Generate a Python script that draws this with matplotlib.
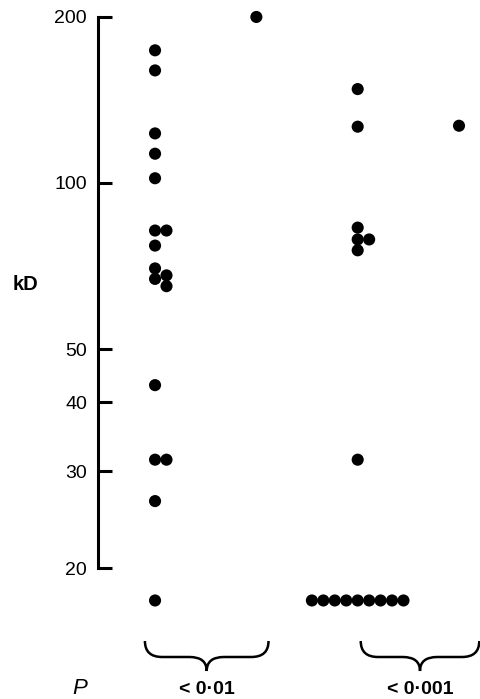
import numpy as np
import matplotlib
matplotlib.use('Agg')
import matplotlib.pyplot as plt
from matplotlib.path import Path
from matplotlib.patches import PathPatch
from matplotlib.transforms import blended_transform_factory

plt.rcParams['font.family'] = ['Liberation Sans', 'DejaVu Sans']

# molecular weights (kD), one list per column
group_a = [174, 160, 123, 113, 102, 82, 82, 77, 70, 68, 67, 65, 43, 31.5, 31.5, 26.5, 17.5]
group_b = [200]
group_c = [148, 126.5, 83, 79, 79, 75.5, 31.5,
           17.5, 17.5, 17.5, 17.5, 17.5, 17.5, 17.5, 17.5, 17.5]
group_d = [127]
groups = [group_a, group_b, group_c, group_d]

y_ticks = [20, 30, 40, 50, 100, 200]
p_labels = ['< 0\u00b701', '< 0\u00b7001']
p_groups = [(1, 2), (3, 4)]


#
#   swarm_offsets
#       put overlapping dots side by side (0, +1, -1, +2, -2 ...)
#
def swarm_offsets(values, min_gap=0.0181):
    logs = np.log10(values)
    placed = []
    offsets = []
    order = [0]
    for i in range(1, 20):
        order += [i, -i]
    for v in logs:
        for k in order:
            if all(not (p_k == k and abs(p_v - v) < min_gap) for p_v, p_k in placed):
                break
        placed.append((v, k))
        offsets.append(k)
    return np.array(offsets)


fig = plt.figure(figsize=(4.81, 6.99), dpi=100)
ax = fig.add_axes([98 / 481, 1 - 620 / 699, 1 - 98 / 481, 610 / 699])

step = 0.113
for i, vals in enumerate(groups):
    xs = i + 1 + swarm_offsets(vals) * step
    ax.scatter(xs, vals, s=76, c='black', edgecolors='none', clip_on=False, zorder=3)

ax.set_yscale('log')
ax.set_ylim(16.13, 205.9)
ax.set_xlim(0.437, 4.217)

ax.set_yticks(y_ticks)
ax.set_yticklabels([str(t) for t in y_ticks])
ax.yaxis.set_minor_locator(matplotlib.ticker.NullLocator())
ax.tick_params(axis='y', direction='in', length=10, width=2.2, pad=8, labelsize=14)
ax.set_xticks([])

for s in ['top', 'right', 'bottom']:
    ax.spines[s].set_visible(False)
ax.spines['left'].set_linewidth(2.2)
ax.spines['left'].set_bounds(20, 200)

fig.text(25.5 / 481, 1 - 285 / 699, 'kD', fontsize=14.5, fontweight='bold',
         ha='center', va='center')
fig.text(80 / 481, 1 - 688 / 699, 'P', fontsize=16, style='italic',
         ha='center', va='center')

# braces under the columns
trans = blended_transform_factory(ax.transData, fig.transFigure)
y_top = 1 - 641 / 699
y_mid = 1 - 657 / 699
y_tip = 1 - 671 / 699
w = 0.17
pad_left = [0.10, -0.03]
pad_right = [0.12, 0.20]
for (g0, g1), lab, pl, pr in zip(p_groups, p_labels, pad_left, pad_right):
    x0 = g0 - pl
    x1 = g1 + pr
    xt = (x0 + x1) / 2
    verts = [(x0, y_top), (x0, y_mid), (x0 + w, y_mid),
             (xt - w, y_mid),
             (xt, y_mid), (xt, y_tip),
             (xt, y_mid), (xt + w, y_mid),
             (x1 - w, y_mid),
             (x1, y_mid), (x1, y_top)]
    codes = [Path.MOVETO, Path.CURVE3, Path.CURVE3,
             Path.LINETO,
             Path.CURVE3, Path.CURVE3,
             Path.CURVE3, Path.CURVE3,
             Path.LINETO,
             Path.CURVE3, Path.CURVE3]
    patch = PathPatch(Path(verts, codes), transform=trans, fill=False,
                      lw=1.8, color='black', clip_on=False)
    fig.add_artist(patch)
    fig.text(xt, 1 - 689 / 699, lab, transform=trans, fontsize=14,
             fontweight='bold', ha='center', va='center')

fig.savefig('out.png', dpi=100)
